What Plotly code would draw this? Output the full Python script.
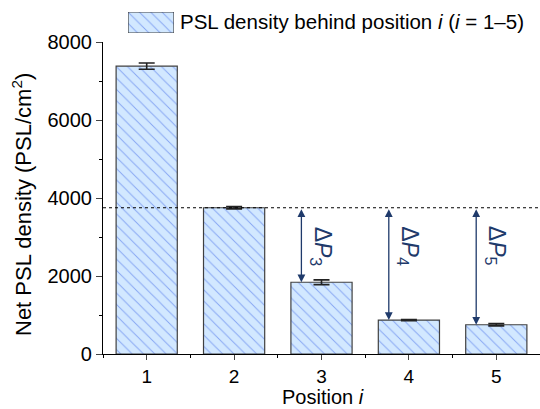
import plotly.graph_objects as go

positions = [1, 2, 3, 4, 5]
values = [7380, 3750, 1840, 870, 750]
errors = [80, 30, 60, 15, 30]
tick_vals = [0, 2000, 4000, 6000, 8000]
ref_level = 3750
delta_positions = [3, 4, 5]
delta_labels = ["Δ<i>P</i><sub>3</sub>", "Δ<i>P</i><sub>4</sub>", "Δ<i>P</i><sub>5</sub>"]
legend_text = "PSL density behind position <i>i</i> (<i>i</i> = 1–5)"
x_title = "Position <i>i</i>"
y_title = "Net PSL density (PSL/cm<sup>2</sup>)"

W, H = 540, 409
L, B, T, R = 103, 55, 0, 0
plot_h = H - B - T
plot_w = W - L - R
top_px = 42  # plot top in pixels


def px_x(x):
    return (x - L) / plot_w


def px_y(y):
    return (H - B - y) / plot_h


pattern = dict(shape="\\", fgcolor="#3b63e6", bgcolor="#d2e8ff", size=8, solidity=0.12)
outline = dict(color="#404040", width=1.2)

fig = go.Figure()
fig.add_trace(go.Bar(
    x=positions, y=values, width=0.7,
    marker=dict(color="#d2e8ff", pattern=pattern, line=outline),
    error_y=dict(type="data", array=errors, color="#222222", thickness=1.6, width=8),
    showlegend=False,
))

# legend swatch as a tiny bar in its own axes
fig.add_trace(go.Bar(
    x=[0], y=[1], width=1, xaxis="x2", yaxis="y2",
    marker=dict(color="#d2e8ff", pattern=pattern, line=outline),
    showlegend=False, hoverinfo="skip",
))

font_family = "Liberation Sans, Arial, sans-serif"
fig.update_layout(
    width=W, height=H,
    margin=dict(l=L, r=R, t=T, b=B, autoexpand=False),
    plot_bgcolor="white", paper_bgcolor="white",
    font=dict(family=font_family, color="#000000"),
    showlegend=False,
    xaxis=dict(
        range=[0.5, 5.5], tickvals=positions, ticks="outside", ticklen=5, tickwidth=1.2,
        showline=True, linecolor="#000000", linewidth=1.2, showgrid=False, zeroline=False,
        tickfont=dict(size=19), automargin=False,
        minor=dict(tickvals=[0.5, 1.5, 2.5, 3.5, 4.5, 5.5], ticks="outside", ticklen=3, tickcolor="#000000"),
    ),
    yaxis=dict(
        domain=[0, px_y(top_px)],
        range=[0, 8000], tickvals=tick_vals, ticks="outside", ticklen=6, tickwidth=1.2,
        showline=True, linecolor="#000000", linewidth=1.2, showgrid=False, zeroline=False,
        tickfont=dict(size=20), automargin=False,
        minor=dict(tickvals=[1000, 3000, 5000, 7000], ticks="outside", ticklen=3, tickcolor="#000000"),
    ),
    xaxis2=dict(domain=[px_x(128), px_x(174)], range=[-0.5, 0.5],
                visible=False, fixedrange=True, anchor="y2", automargin=False),
    yaxis2=dict(domain=[px_y(33), px_y(12)], range=[0, 1],
                visible=False, fixedrange=True, anchor="x2", automargin=False),
)

# dotted reference line
fig.add_shape(type="line", xref="paper", yref="y", x0=0, x1=1, y0=ref_level, y1=ref_level,
              line=dict(color="#000000", width=1, dash="dot"))

navy = "#1f3a6b"
for p, lab in zip(delta_positions, delta_labels):
    v = values[positions.index(p)]
    xa = p - 0.23
    fig.add_annotation(x=xa, y=v, ax=xa, ay=ref_level, xref="x", yref="y", axref="x", ayref="y",
                       text="", showarrow=True, arrowhead=2, startarrowhead=2, arrowside="end+start",
                       arrowsize=1.2, arrowwidth=1.3, arrowcolor=navy)
    fig.add_annotation(x=p, y=ref_level - 420, xref="x", yref="y", text=lab, showarrow=False,
                       textangle=90, yanchor="top", xanchor="center",
                       font=dict(size=23, color=navy, family=font_family))

# legend text
fig.add_annotation(xref="paper", yref="paper", x=px_x(178), y=px_y(22),
                   xanchor="left", yanchor="middle", text=legend_text, showarrow=False,
                   font=dict(size=20.5, color="#000000"))

# axis titles
fig.add_annotation(xref="paper", yref="paper", x=px_x(323), y=px_y(397),
                   xanchor="center", yanchor="middle", text=x_title, showarrow=False,
                   font=dict(size=20, color="#000000"))
fig.add_annotation(xref="paper", yref="paper", x=px_x(22), y=px_y(205),
                   xanchor="center", yanchor="middle", text=y_title, showarrow=False,
                   textangle=-90, font=dict(size=22, color="#000000"))

fig.write_html("out.html")
